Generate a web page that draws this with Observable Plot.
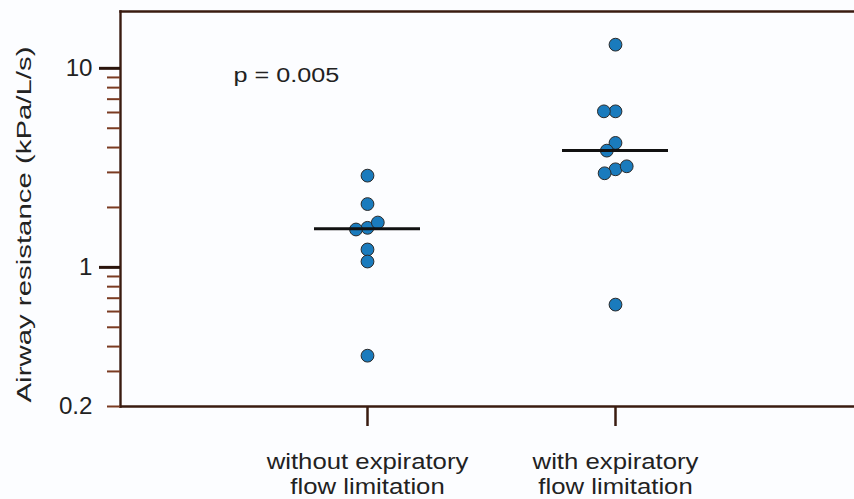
<!DOCTYPE html>
<html>
<head>
<meta charset="utf-8">
<script src="https://cdn.jsdelivr.net/npm/d3@7"></script>
<script src="https://cdn.jsdelivr.net/npm/@observablehq/plot@0.6"></script>
<style>
  html, body { margin: 0; padding: 0; background: #fcfdff; }
</style>
</head>
<body>
<div id="chart"></div>
<script>
// ---- data ----
const groups = ["without expiratory\nflow limitation", "with expiratory\nflow limitation"];
const withoutEFL = [2.89, 2.08, 1.58, 1.55, 1.68, 1.23, 1.07, 0.36];
const withEFL = [13.15, 6.08, 6.08, 4.22, 3.86, 3.11, 2.97, 3.22, 0.65];
const yDomain = [0.2, 19.3];
const yMajorTicks = [1, 10];
const yMinorTicks = [0.2, 0.3, 0.4, 0.5, 0.6, 0.7, 0.8, 0.9, 2, 3, 4, 5, 6, 7, 8, 9];
const yTickLabels = [0.2, 1, 10];
const yLabel = ["Airway resistance (kPa/L/s)"];
const pLabel = ["p = 0.005"];

const data = [
  ...withoutEFL.map(value => ({group: groups[0], value})),
  ...withEFL.map(value => ({group: groups[1], value}))
];

const font = '"Liberation Sans", Arial, Helvetica, sans-serif';
const frameColor = "#3a1b10";
const R = 6.4, PAD = -1.2;

// beeswarm initializer: keeps each dot at its scaled y, nudges x around its band position to limit overlap
function beeswarm(r, padding) {
  const D = 2 * r + padding;
  return (data, facets, channels, scales) => {
    const XV = channels.x.value, YV = channels.y.value;
    const n = XV.length;
    const X = new Float64Array(n), Y = new Float64Array(n);
    for (const facet of facets) {
      const byGroup = d3.group(facet, i => XV[i]);
      for (const [g, idx] of byGroup) {
        const cx = scales.x(g);
        const placed = [];
        for (const i of idx) {
          const y = scales.y(YV[i]);
          Y[i] = y;
          const cands = [0];
          for (const j of placed) {
            const dy = Y[j] - y;
            if (Math.abs(dy) < D) {
              const h = Math.sqrt(D * D - dy * dy);
              cands.push(X[j] - cx + h, X[j] - cx - h);
            }
          }
          cands.sort((a, b) => Math.abs(a) - Math.abs(b) || a - b);
          const best = cands.find(c => placed.every(j => (X[j] - cx - c) ** 2 + (Y[j] - y) ** 2 >= D * D - 1e-6));
          X[i] = cx + (best ?? 0);
          placed.push(i);
        }
      }
    }
    return {data, facets, channels: {x: {value: X}, y: {value: Y}}};
  };
}

const chart = Plot.plot({
  width: 854,
  height: 499,
  marginLeft: 120,
  marginRight: 0,
  marginTop: 11,
  marginBottom: 93,
  style: {background: "#fcfdff", fontFamily: font, color: "#222", overflow: "visible"},
  x: {type: "band", domain: groups, paddingInner: 0.573, paddingOuter: 0.7645, align: 0.51, label: null},
  y: {type: "log", domain: yDomain, label: null},
  marks: [
    Plot.frame({anchor: "top", stroke: frameColor, strokeWidth: 2.4}),
    Plot.frame({anchor: "bottom", stroke: frameColor, strokeWidth: 2.4}),
    Plot.frame({anchor: "left", stroke: frameColor, strokeWidth: 2.4}),
    Plot.axisY(yMinorTicks, {anchor: "left", tickSize: 13, stroke: "#7a3b22", strokeWidth: 2,
      fill: "none", label: null}),
    Plot.axisY(yMajorTicks, {anchor: "left", tickSize: 21, stroke: "#2a140c", strokeWidth: 3,
      fill: "none", label: null}),
    Plot.axisY(yTickLabels, {anchor: "left", tickSize: 0, tickPadding: 28, fontSize: 23,
      tickFormat: d => String(d), fill: "#222", label: null}),
    Plot.axisX({anchor: "bottom", tickSize: 20, tickPadding: 25, fontSize: 22, lineHeight: 1.14,
      stroke: frameColor, strokeWidth: 2.5, fill: "#222", label: null}),
    Plot.text(yLabel, {text: d => d, frameAnchor: "left", rotate: -90, dx: -96, dy: 15.5,
      fontSize: 21, textAnchor: "middle", lineAnchor: "middle", fill: "#222"}),
    Plot.text(pLabel, {text: d => d, frameAnchor: "top-left", dx: 113, dy: 64,
      fontSize: 21, textAnchor: "start", lineAnchor: "middle", fill: "#222"}),
    Plot.dot(data, {x: "group", y: "value", r: R, fill: "#1a7bbd", stroke: "#2a2a2a", strokeWidth: 1,
      initializer: beeswarm(R, PAD)}),
    Plot.tickY(data, Plot.groupX({y: "median"}, {x: "group", y: "value", stroke: "#111", strokeWidth: 3}))
  ]
});

// horizontal stretch of the (wide-set) reference lettering
function stretchText(t, sx) {
  let tr = t.getAttribute("transform");
  if (!tr) {
    const x = +(t.getAttribute("x") || 0), y = +(t.getAttribute("y") || 0);
    t.removeAttribute("x"); t.removeAttribute("y");
    tr = `translate(${x},${y})`;
  }
  t.setAttribute("transform", tr + ` scale(${sx},1)`);
}
const tickLabelSet = new Set(yTickLabels.map(String));
const groupLabelSet = new Set(groups.map(g => g.replace(/\n/g, "")));
chart.querySelectorAll("text").forEach(t => {
  const s = t.textContent;
  if (s === yLabel[0]) stretchText(t, 1.4);
  else if (s === pLabel[0]) stretchText(t, 1.2);
  else if (tickLabelSet.has(s)) stretchText(t, 1.05);
  else if (groupLabelSet.has(s)) stretchText(t, 1.17);
});

document.getElementById("chart").append(chart);
</script>
</body>
</html>
